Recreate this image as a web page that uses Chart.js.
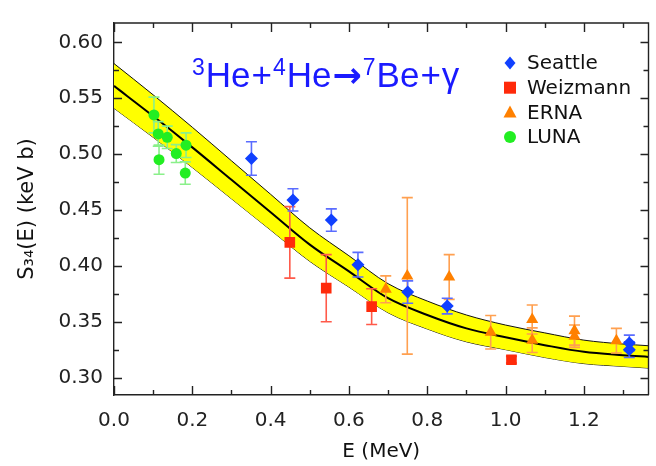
<!DOCTYPE html>
<html>
<head>
<meta charset="utf-8">
<script src="https://cdn.jsdelivr.net/npm/chart.js@4/dist/chart.umd.min.js"></script>
<style>
  body { margin: 0; background: #fff; }
  #contenedor { width: 656px; height: 466px; }
</style>
</head>
<body>
<div id="contenedor"><canvas id="graficoS34" width="656" height="466"></canvas></div>
<script>
// curva ajustada S34(E) y banda de incertidumbre
var curvaE = [0, 0.1, 0.2, 0.3, 0.4, 0.5, 0.6, 0.7, 0.8, 0.9, 1.0, 1.1, 1.2, 1.3, 1.365];
var curvaS = [0.561, 0.534, 0.506, 0.477, 0.448, 0.419, 0.395, 0.371, 0.356, 0.344, 0.336, 0.329, 0.323, 0.320, 0.3185];
var bandaSup = [0.581, 0.553, 0.524, 0.494, 0.464, 0.434, 0.409, 0.384, 0.3685, 0.356, 0.347, 0.340, 0.3335, 0.330, 0.3285];
var bandaInf = [0.541, 0.515, 0.488, 0.460, 0.432, 0.404, 0.381, 0.358, 0.3435, 0.332, 0.325, 0.318, 0.3125, 0.310, 0.3085];

// Seattle
var seattleE = [0.351, 0.457, 0.555, 0.623, 0.750, 0.851, 1.316, 1.316];
var seattleS = [0.496, 0.459, 0.441, 0.401, 0.3765, 0.364, 0.331, 0.325];
var seattleErr = [0.015, 0.010, 0.010, 0.011, 0.010, 0.007, 0.007, 0.007];
// Weizmann
var weizmannE = [0.449, 0.542, 0.658, 1.015];
var weizmannS = [0.421, 0.380, 0.3635, 0.316];
var weizmannErr = [0.032, 0.030, 0.016, 0.003];
// ERNA
var ernaE = [0.694, 0.749, 0.856, 0.962, 1.068, 1.068, 1.176, 1.176, 1.283];
var ernaS = [0.379, 0.391, 0.390, 0.3405, 0.352, 0.3335, 0.342, 0.337, 0.333];
var ernaErr = [0.012, 0.070, 0.020, 0.015, 0.013, 0.011, 0.013, 0.010, 0.011];
// LUNA
var lunaE = [0.102, 0.113, 0.136, 0.115, 0.159, 0.184, 0.182];
var lunaS = [0.535, 0.518, 0.515, 0.495, 0.5005, 0.508, 0.483];
var lunaErr = [0.016, 0.011, 0.010, 0.013, 0.008, 0.011, 0.010];

// etiquetas de los ejes
var ticksX = [0, 0.2, 0.4, 0.6, 0.8, 1.0, 1.2];
var ticksXMenores = [0.1, 0.3, 0.5, 0.7, 0.9, 1.1, 1.3];
var ticksY = [0.30, 0.35, 0.40, 0.45, 0.50, 0.55, 0.60];
var ticksYMenores = [0.325, 0.375, 0.425, 0.475, 0.525, 0.575];

var series = ['Seattle', 'Weizmann', 'ERNA', 'LUNA'];

function puntos(xs, ys) {
  return xs.map(function (x, i) { return { x: x, y: ys[i] }; });
}

// barras de error, se dibujan justo antes de los puntos de cada serie
var pluginBarrasError = {
  id: 'barrasError',
  beforeDatasetDraw: function (chart, args) {
    var ds = chart.data.datasets[args.index];
    if (!ds.errores) return;
    var ctx = chart.ctx, ex = chart.scales.x, ey = chart.scales.y;
    ctx.save();
    ctx.strokeStyle = ds.colorBarra;
    ctx.lineWidth = 1.6;
    ds.data.forEach(function (p, i) {
      var px = ex.getPixelForValue(p.x);
      var y1 = ey.getPixelForValue(p.y + ds.errores[i]);
      var y2 = ey.getPixelForValue(p.y - ds.errores[i]);
      ctx.beginPath();
      ctx.moveTo(px, y1); ctx.lineTo(px, y2);
      ctx.moveTo(px - 5.5, y1); ctx.lineTo(px + 5.5, y1);
      ctx.moveTo(px - 5.5, y2); ctx.lineTo(px + 5.5, y2);
      ctx.stroke();
    });
    ctx.restore();
  }
};

// marco, marcas internas, leyenda y titulo de la reaccion
var pluginDecoracion = {
  id: 'decoracion',
  afterDatasetsDraw: function (chart) {
    var ctx = chart.ctx, a = chart.chartArea, ex = chart.scales.x, ey = chart.scales.y;
    ctx.save();
    ctx.strokeStyle = '#222';
    ctx.lineWidth = 1.4;
    ctx.beginPath();
    ctx.moveTo(a.left, a.top); ctx.lineTo(a.right, a.top); ctx.lineTo(a.right, a.bottom);
    function marcaX(v, l) {
      var px = Math.round(ex.getPixelForValue(v)) + 0.5;
      ctx.moveTo(px, a.bottom); ctx.lineTo(px, a.bottom - l);
      ctx.moveTo(px, a.top); ctx.lineTo(px, a.top + l);
    }
    function marcaY(v, l) {
      var py = Math.round(ey.getPixelForValue(v)) + 0.5;
      ctx.moveTo(a.left, py); ctx.lineTo(a.left + l, py);
      ctx.moveTo(a.right, py); ctx.lineTo(a.right - l, py);
    }
    ticksX.forEach(function (v) { marcaX(v, 9); });
    ticksXMenores.forEach(function (v) { marcaX(v, 5); });
    ticksY.forEach(function (v) { marcaY(v, 8); });
    ticksYMenores.forEach(function (v) { marcaY(v, 5); });
    ctx.stroke();

    // leyenda
    var estilos = chart.data.datasets.filter(function (d) { return d.errores; });
    estilos.forEach(function (d, i) {
      var y = 63 + i * 24.7, x = 510;
      ctx.fillStyle = d.backgroundColor;
      ctx.beginPath();
      if (d.pointStyle === 'rectRot') {
        ctx.moveTo(x, y - 6.5); ctx.lineTo(x + 5.5, y); ctx.lineTo(x, y + 6.5); ctx.lineTo(x - 5.5, y);
      } else if (d.pointStyle === 'rect') {
        ctx.rect(x - 6, y - 6, 12, 12);
      } else if (d.pointStyle === 'triangle') {
        ctx.moveTo(x, y - 7); ctx.lineTo(x + 6.5, y + 5); ctx.lineTo(x - 6.5, y + 5);
      } else {
        ctx.arc(x, y, 6, 0, Math.PI * 2);
      }
      ctx.closePath();
      ctx.fill();
      ctx.fillStyle = '#111';
      ctx.font = '20px "DejaVu Sans"';
      ctx.textBaseline = 'middle';
      ctx.textAlign = 'left';
      ctx.fillText(d.label, 527, y + 1);
    });

    // 3He+4He -> 7Be+gamma  (tipo: 0 normal, 1 superindice, 2 flecha)
    var partes = [['3', 1], ['He', 0], ['+', 0], ['4', 1], ['He', 0], ['\u2192', 2], ['7', 1], ['Be', 0], ['+', 0], ['\u03b3', 0]];
    var xx = 192, base = 87;
    ctx.fillStyle = '#1a1aff';
    ctx.textBaseline = 'alphabetic';
    partes.forEach(function (p) {
      var dy = 0;
      if (p[1] === 1) { ctx.font = '23px "Liberation Sans"'; dy = -12; }
      else if (p[1] === 2) { ctx.font = 'bold 35px "DejaVu Sans"'; dy = 0; }
      else { ctx.font = '35px "Liberation Sans"'; }
      ctx.fillText(p[0], xx, base + dy);
      xx += ctx.measureText(p[0]).width + 1;
    });
    ctx.restore();
  }
};

var fuenteEje = { family: 'DejaVu Sans', size: 20 };

new Chart(document.getElementById('graficoS34'), {
  type: 'scatter',
  data: {
    datasets: [
      { type: 'line', label: 'banda sup', data: puntos(curvaE, bandaSup), borderColor: '#111', borderWidth: 1,
        backgroundColor: '#ffff00', fill: '+1', pointRadius: 0, cubicInterpolationMode: 'monotone', order: 3 },
      { type: 'line', label: 'banda inf', data: puntos(curvaE, bandaInf), borderColor: '#111', borderWidth: 1,
        fill: false, pointRadius: 0, cubicInterpolationMode: 'monotone', order: 3 },
      { type: 'line', label: 'ajuste', data: puntos(curvaE, curvaS), borderColor: '#000', borderWidth: 2,
        fill: false, pointRadius: 0, cubicInterpolationMode: 'monotone', order: 2 },
      { label: series[0], data: puntos(seattleE, seattleS), errores: seattleErr, colorBarra: '#5a6cff',
        pointStyle: 'rectRot', pointRadius: 6.5, backgroundColor: '#1040ff', borderWidth: 0, order: 1 },
      { label: series[1], data: puntos(weizmannE, weizmannS), errores: weizmannErr, colorBarra: '#ff5a4a',
        pointStyle: 'rect', pointRadius: 7.5, backgroundColor: '#ff2a0a', borderWidth: 0, order: 1 },
      { label: series[2], data: puntos(ernaE, ernaS), errores: ernaErr, colorBarra: '#ffa050',
        pointStyle: 'triangle', pointRadius: 7, backgroundColor: '#ff8000', borderWidth: 0, order: 1 },
      { label: series[3], data: puntos(lunaE, lunaS), errores: lunaErr, colorBarra: '#8af08a',
        pointStyle: 'circle', pointRadius: 5.5, backgroundColor: '#22ee22', borderWidth: 0, order: 1 }
    ]
  },
  options: {
    responsive: false,
    animation: false,
    devicePixelRatio: 1,
    layout: { padding: { left: 0, right: 1, top: 10, bottom: 0 } },
    plugins: { legend: { display: false }, tooltip: { enabled: false } },
    scales: {
      x: {
        type: 'linear', min: 0, max: 1.365,
        afterBuildTicks: function (s) { s.ticks = ticksX.map(function (v) { return { value: v }; }); },
        afterFit: function (s) { s.height = 71; },
        grid: { display: false, drawTicks: false },
        border: { display: true, color: '#222', width: 1.4 },
        ticks: { font: fuenteEje, color: '#222', padding: 14, maxRotation: 0,
                 callback: function (v) { return Number(v).toFixed(1); } },
        title: { display: true, text: 'E (MeV)', font: fuenteEje, color: '#111', padding: { top: 0, bottom: 2 } }
      },
      y: {
        type: 'linear', min: 0.2844, max: 0.6173,
        afterBuildTicks: function (s) { s.ticks = ticksY.map(function (v) { return { value: v }; }); },
        afterFit: function (s) { s.width = 114; },
        grid: { display: false, drawTicks: false },
        border: { display: true, color: '#222', width: 1.4 },
        ticks: { font: fuenteEje, color: '#222', padding: 11,
                 callback: function (v) { return Number(v).toFixed(2); } },
        title: { display: true, text: 'S\u2083\u2084(E) (keV b)', font: { family: 'DejaVu Sans', size: 21 },
                 color: '#111', padding: { top: 15, bottom: 0 } }
      }
    }
  },
  plugins: [pluginBarrasError, pluginDecoracion]
});
</script>
</body>
</html>
